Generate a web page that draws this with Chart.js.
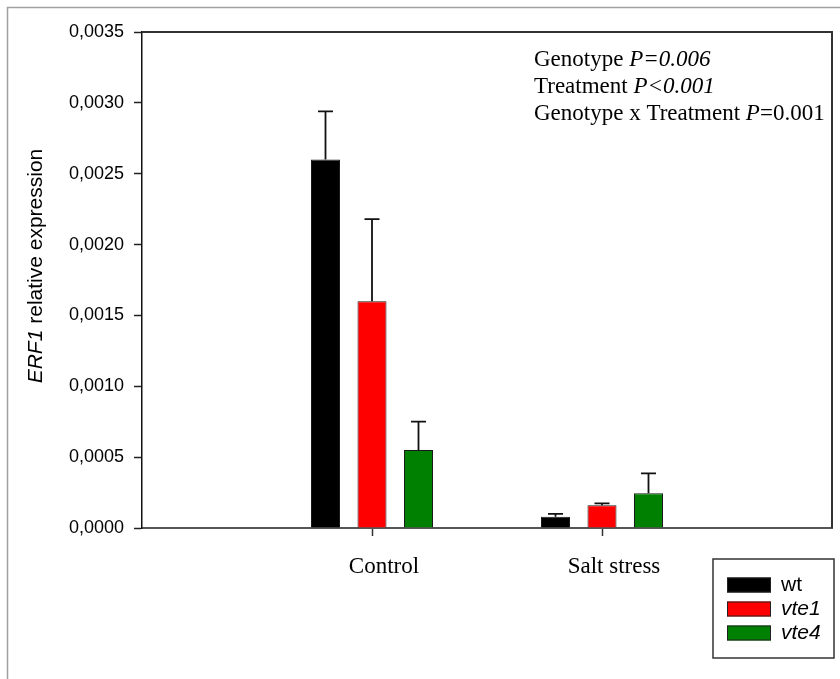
<!DOCTYPE html>
<html>
<head>
<meta charset="utf-8">
<script src="https://cdn.jsdelivr.net/npm/chart.js@4/dist/chart.umd.min.js"></script>
<style>
  html, body { margin: 0; padding: 0; background: #fff; }
  #wrap { width: 840px; height: 679px; position: relative; }
</style>
</head>
<body>
<div id="wrap"><canvas id="c" width="840" height="679"></canvas></div>
<script>
// Treatment groups (blank slots pad the axis so the groups sit at 1/3 and 2/3)
const categories = ['', 'Control', 'Salt stress', ''];

// Mean ERF1 relative expression per genotype
const wtValues   = [null, 0.0026,  0.00008,  null];
const vte1Values = [null, 0.0016,  0.00016,  null];
const vte4Values = [null, 0.00055, 0.000245, null];

// Standard errors (drawn upward only)
const wtErrors   = [null, 0.00034, 0.00002,  null];
const vte1Errors = [null, 0.00058, 0.000014, null];
const vte4Errors = [null, 0.0002,  0.00014,  null];

const yTicks = [0, 0.0005, 0.001, 0.0015, 0.002, 0.0025, 0.003, 0.0035];

const statsLines = [
  [['Genotype ', false], ['P=0.006', true]],
  [['Treatment ', false], ['P<0.001', true]],
  [['Genotype x Treatment ', false], ['P', true], ['=0.001', false]]
];

const legendItems = [
  { text: 'wt', italic: false },
  { text: 'vte1', italic: true },
  { text: 'vte4', italic: true }
];

const SANS = '"Liberation Sans", Arial, sans-serif';
const SERIF = '"Liberation Serif", "Times New Roman", serif';

const errorBars = {
  id: 'errorBars',
  afterDatasetsDraw(chart) {
    const ctx = chart.ctx;
    const y = chart.scales.y;
    ctx.save();
    ctx.strokeStyle = '#111';
    ctx.lineWidth = 1.8;
    chart.data.datasets.forEach((ds, di) => {
      const meta = chart.getDatasetMeta(di);
      meta.data.forEach((bar, i) => {
        const v = ds.data[i], e = ds.errors[i];
        if (v == null || e == null) return;
        const x = bar.x;
        const yTop = y.getPixelForValue(v + e);
        const yBar = y.getPixelForValue(v);
        ctx.beginPath();
        ctx.moveTo(x, yBar);
        ctx.lineTo(x, yTop);
        ctx.moveTo(x - 7.5, yTop);
        ctx.lineTo(x + 7.5, yTop);
        ctx.stroke();
      });
    });
    ctx.restore();
  }
};

const decorations = {
  id: 'decorations',
  beforeDraw(chart) {
    const ctx = chart.ctx;
    ctx.save();
    ctx.fillStyle = '#fff';
    ctx.fillRect(0, 0, chart.width, chart.height);
    // outer frame
    ctx.strokeStyle = '#a0a0a0';
    ctx.lineWidth = 1.5;
    ctx.beginPath();
    ctx.moveTo(7.5, chart.height);
    ctx.lineTo(7.5, 7.5);
    ctx.lineTo(chart.width, 7.5);
    ctx.stroke();
    ctx.restore();
  },
  afterDraw(chart) {
    const ctx = chart.ctx;
    const a = chart.chartArea;
    ctx.save();
    // top and right edges of the plot box
    ctx.strokeStyle = '#333';
    ctx.lineWidth = 2;
    ctx.beginPath();
    ctx.moveTo(a.left, a.top);
    ctx.lineTo(a.right, a.top);
    ctx.lineTo(a.right, a.bottom);
    ctx.stroke();

    // y axis title with italic gene name
    ctx.save();
    ctx.translate(36, 266);
    ctx.rotate(-Math.PI / 2);
    ctx.fillStyle = '#000';
    ctx.textBaseline = 'middle';
    const fIt = 'italic 21px ' + SANS, fNo = '21px ' + SANS;
    ctx.font = fIt; const w1 = ctx.measureText('ERF1').width;
    ctx.font = fNo; const w2 = ctx.measureText(' relative expression').width;
    let x0 = -(w1 + w2) / 2;
    ctx.font = fIt; ctx.textAlign = 'left'; ctx.fillText('ERF1', x0, 0);
    ctx.font = fNo; ctx.fillText(' relative expression', x0 + w1, 0);
    ctx.restore();

    // statistics block
    ctx.fillStyle = '#000';
    ctx.textBaseline = 'middle';
    ctx.textAlign = 'left';
    statsLines.forEach((parts, li) => {
      let x = 534;
      const yy = 60 + li * 27;
      parts.forEach(([t, it]) => {
        ctx.font = (it ? 'italic ' : '') + '23px ' + SERIF;
        ctx.fillText(t, x, yy);
        x += ctx.measureText(t).width;
      });
    });

    // legend
    ctx.strokeStyle = '#333';
    ctx.lineWidth = 1.5;
    ctx.strokeRect(713, 559, 121, 99);
    legendItems.forEach((item, i) => {
      const ds = chart.data.datasets[i];
      const cy = 585 + i * 24;
      ctx.fillStyle = ds.backgroundColor;
      ctx.fillRect(727, cy - 7.5, 44, 15);
      ctx.strokeStyle = '#222';
      ctx.lineWidth = 1;
      ctx.strokeRect(727.5, cy - 7, 43, 14);
      ctx.fillStyle = '#000';
      ctx.font = (item.italic ? 'italic ' : '') + '21px ' + SANS;
      ctx.textBaseline = 'middle';
      ctx.fillText(item.text, 781, cy);
    });
    ctx.restore();
  }
};

const barStyle = {
  borderColor: '#1a1a1a',
  borderWidth: 1,
  categoryPercentage: 0.6065,
  barPercentage: 0.624
};

new Chart(document.getElementById('c'), {
  type: 'bar',
  data: {
    labels: categories,
    datasets: [
      Object.assign({ label: 'wt', data: wtValues, errors: wtErrors, backgroundColor: '#000000' }, barStyle),
      Object.assign({ label: 'vte1', data: vte1Values, errors: vte1Errors, backgroundColor: '#ff0000' }, barStyle),
      Object.assign({ label: 'vte4', data: vte4Values, errors: vte4Errors, backgroundColor: '#008000' }, barStyle)
    ]
  },
  options: {
    responsive: false,
    animation: false,
    layout: { padding: { left: 0, top: 32, right: 8, bottom: 0 } },
    plugins: { legend: { display: false }, tooltip: { enabled: false } },
    scales: {
      x: {
        offset: false,
        afterFit(s) { s.height = 151; s.paddingLeft = 0; s.paddingRight = 0; },
        grid: {
          offset: false,
          drawOnChartArea: false,
          drawTicks: true,
          tickLength: 8,
          tickWidth: 1.5,
          color: (c) => (c.index === 1 || c.index === 2) ? '#333' : 'rgba(0,0,0,0)'
        },
        border: { display: true, color: '#555', width: 2 },
        ticks: {
          autoSkip: false,
          maxRotation: 0,
          padding: 17,
          labelOffset: 12,
          color: '#000',
          font: { family: SERIF, size: 23 }
        }
      },
      y: {
        min: 0,
        max: 0.0035,
        afterFit(s) { s.width = 142; },
        afterBuildTicks(s) { s.ticks = yTicks.map(v => ({ value: v })); },
        grid: { drawOnChartArea: false, drawTicks: true, tickLength: 8, tickWidth: 1.5, tickColor: '#222' },
        border: { display: true, color: '#111', width: 1.5 },
        ticks: {
          padding: 10,
          color: '#000',
          font: { family: SANS, size: 18 },
          callback: (v) => Number(v).toFixed(4).replace('.', ',')
        }
      }
    }
  },
  plugins: [decorations, errorBars]
});
</script>
</body>
</html>
